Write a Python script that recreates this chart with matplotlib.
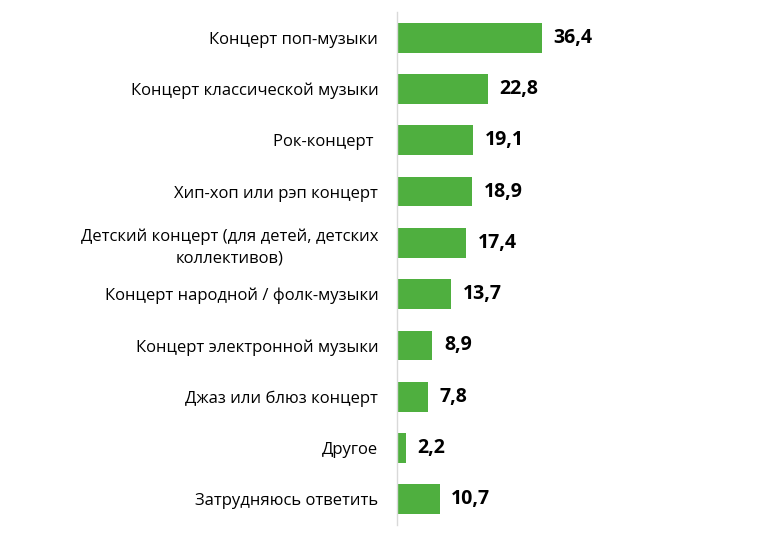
import matplotlib
matplotlib.use("Agg")
import matplotlib.pyplot as plt

categories = [
    "Концерт поп-музыки",
    "Концерт классической музыки",
    "Рок-концерт ",
    "Хип-хоп или рэп концерт",
    "Детский концерт (для детей, детских\nколлективов)",
    "Концерт народной / фолк-музыки",
    "Концерт электронной музыки",
    "Джаз или блюз концерт",
    "Другое",
    "Затрудняюсь ответить",
]
values = [36.4, 22.8, 19.1, 18.9, 17.4, 13.7, 8.9, 7.8, 2.2, 10.7]
value_labels = ["36,4", "22,8", "19,1", "18,9", "17,4", "13,7", "8,9", "7,8", "2,2", "10,7"]

plt.rcParams['font.family'] = ['Open Sans', 'DejaVu Sans']

fig = plt.figure(figsize=(7.65, 5.39), dpi=100)
ax = fig.add_axes([397 / 765, 14 / 539, 318 / 765, 513 / 539])

y = list(range(len(categories)))
ax.barh(y, values, height=0.58, color='#4FAF3F')
for yi, v, lab in zip(y, values, value_labels):
    ax.text(v + 2.9, yi, lab, va='center', ha='left', fontsize=14,
            fontweight='bold', color='black')

ax.set_xlim(0, 80)
ax.set_ylim(-0.5, len(categories) - 0.5)
ax.invert_yaxis()
ax.set_yticks(y)
ax.set_yticklabels(categories, fontsize=12, ha='right', multialignment='center',
                   linespacing=1.45)
ax.tick_params(axis='y', length=0, pad=13.5)
ax.set_xticks([])
for s in ['top', 'right', 'bottom']:
    ax.spines[s].set_visible(False)
ax.spines['left'].set_color('#D9D9D9')
ax.spines['left'].set_linewidth(1)

fig.savefig('out.png', dpi=100)
